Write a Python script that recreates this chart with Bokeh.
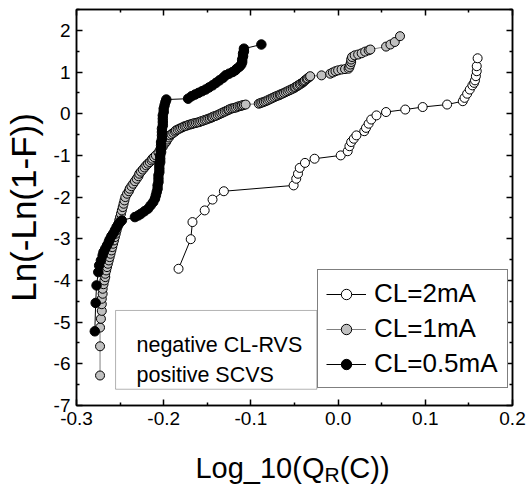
from bokeh.plotting import figure
from bokeh.layouts import column
from bokeh.models import (Range1d, LinearAxis, FixedTicker, PrintfTickFormatter,
                          Legend, LegendItem, Label, BoxAnnotation, Div)
from bokeh.embed import file_html
from bokeh.resources import INLINE

FONT = "Liberation Sans"

# ---------------- data ----------------
x_2mA = [-0.183, -0.169, -0.167, -0.153, -0.144, -0.131, -0.051, -0.048, -0.046, -0.044,
         -0.038, -0.027, 0.003, 0.011, 0.013, 0.015, 0.018, 0.021, 0.030, 0.032,
         0.035, 0.038, 0.044, 0.055, 0.077, 0.097, 0.125, 0.143, 0.145, 0.148,
         0.151, 0.154, 0.156, 0.157, 0.158, 0.159, 0.159, 0.160]
y_2mA = [-3.72, -3.01, -2.60, -2.32, -2.06, -1.86, -1.72, -1.56, -1.44, -1.30,
         -1.18, -1.08, -1.00, -0.90, -0.78, -0.68, -0.60, -0.52, -0.42, -0.34,
         -0.24, -0.14, -0.04, 0.04, 0.10, 0.16, 0.22, 0.30, 0.38, 0.48,
         0.58, 0.68, 0.74, 0.80, 0.90, 1.02, 1.14, 1.33]

x_1mA = [-0.273, -0.273, -0.273, -0.272, -0.271, -0.271, -0.271, -0.270, -0.270, -0.269, -0.268,
         -0.267, -0.267, -0.266, -0.265, -0.264, -0.263, -0.262, -0.261, -0.260, -0.259, -0.258,
         -0.257, -0.256, -0.255, -0.254, -0.253, -0.252, -0.251, -0.250, -0.249, -0.248, -0.247,
         -0.246, -0.245, -0.244,
         -0.242, -0.240, -0.239, -0.237, -0.235, -0.233, -0.231, -0.229, -0.228, -0.226,
         -0.224, -0.222, -0.220, -0.218, -0.216, -0.214, -0.213, -0.211, -0.209, -0.206,
         -0.204, -0.201, -0.199, -0.197, -0.196, -0.194, -0.193, -0.191, -0.189, -0.187,
         -0.186, -0.184, -0.182, -0.180, -0.178, -0.176, -0.174, -0.172, -0.170, -0.168,
         -0.167, -0.165, -0.163, -0.161, -0.159, -0.157, -0.155, -0.153, -0.151, -0.149,
         -0.147, -0.145, -0.144, -0.142, -0.140, -0.138, -0.136, -0.134, -0.132, -0.130,
         -0.128, -0.126, -0.125, -0.123, -0.121, -0.119, -0.117, -0.115, -0.113, -0.111,
         -0.110, -0.108, -0.106,
         -0.091, -0.089, -0.087, -0.085, -0.083, -0.081, -0.079, -0.077, -0.075, -0.073,
         -0.071, -0.069, -0.067, -0.066, -0.064, -0.062, -0.060, -0.058, -0.056, -0.054,
         -0.052, -0.050, -0.049, -0.047, -0.046, -0.044, -0.043, -0.041, -0.040, -0.039,
         -0.038, -0.036, -0.035, -0.033, -0.032,
         -0.019, -0.009, -0.006, -0.003, 0.000, 0.004, 0.008, 0.012, 0.013, 0.014, 0.015, 0.015,
         0.016, 0.019, 0.023, 0.027, 0.031, 0.035, 0.037, 0.055, 0.060, 0.065, 0.071]
y_1mA = [-6.28, -5.58, -5.13, -4.92, -4.73, -4.57, -4.44, -4.32, -4.20, -4.09, -4.00,
         -3.92, -3.84, -3.76, -3.68, -3.60, -3.52, -3.44, -3.36, -3.28, -3.20, -3.12,
         -3.04, -2.96, -2.88, -2.80, -2.72, -2.64, -2.56, -2.48, -2.40, -2.32, -2.24,
         -2.16, -2.08, -2.00,
         -1.92, -1.86, -1.80, -1.74, -1.68, -1.62, -1.56, -1.50, -1.44, -1.39,
         -1.34, -1.29, -1.24, -1.20, -1.16, -1.12, -1.08, -1.04, -1.00, -0.93,
         -0.86, -0.79, -0.72, -0.67, -0.62, -0.57, -0.52, -0.49, -0.46, -0.43,
         -0.40, -0.38, -0.36, -0.34, -0.32, -0.30, -0.29, -0.27, -0.26, -0.25,
         -0.24, -0.23, -0.22, -0.21, -0.20, -0.18, -0.17, -0.15, -0.14, -0.12,
         -0.11, -0.09, -0.08, -0.06, -0.05, -0.03, -0.01, 0.01, 0.03, 0.05,
         0.07, 0.09, 0.10, 0.12, 0.13, 0.14, 0.15, 0.17, 0.18, 0.19,
         0.20, 0.21, 0.22,
         0.24, 0.255, 0.27, 0.285, 0.30, 0.32, 0.34, 0.36, 0.38, 0.40,
         0.42, 0.435, 0.45, 0.465, 0.48, 0.50, 0.52, 0.54, 0.56, 0.58,
         0.60, 0.62, 0.64, 0.66, 0.68, 0.70, 0.72, 0.74, 0.76, 0.78,
         0.80, 0.83, 0.85, 0.88, 0.90,
         0.92, 0.96, 0.99, 1.02, 1.04, 1.06, 1.07, 1.08, 1.12, 1.18, 1.24, 1.30,
         1.36, 1.40, 1.42, 1.45, 1.49, 1.52, 1.54, 1.61, 1.66, 1.72, 1.86]

x_05mA = [-0.279, -0.278, -0.277, -0.275, -0.274, -0.272, -0.270, -0.269, -0.267, -0.265,
          -0.263, -0.262, -0.260, -0.258, -0.256, -0.254, -0.252, -0.250, -0.248,
          -0.233, -0.229, -0.226, -0.222, -0.218, -0.215, -0.212, -0.210, -0.209, -0.208,
          -0.207, -0.207, -0.206, -0.206, -0.206, -0.205, -0.205, -0.205, -0.204, -0.204,
          -0.204, -0.203, -0.203, -0.203, -0.203, -0.202, -0.202, -0.202, -0.202, -0.201,
          -0.201, -0.201, -0.201, -0.200, -0.200, -0.199, -0.198, -0.197,
          -0.172, -0.168, -0.164, -0.160, -0.156, -0.152, -0.148, -0.144, -0.140, -0.136,
          -0.132, -0.129, -0.125, -0.121, -0.118, -0.116, -0.113, -0.111, -0.110, -0.110,
          -0.109, -0.109, -0.108, -0.108, -0.088]
y_05mA = [-5.22, -4.54, -4.12, -3.80, -3.64, -3.52, -3.40, -3.32, -3.24, -3.16,
          -3.08, -3.02, -2.94, -2.88, -2.80, -2.72, -2.66, -2.60, -2.56,
          -2.48, -2.44, -2.40, -2.34, -2.28, -2.20, -2.12, -2.04, -1.96, -1.88,
          -1.80, -1.72, -1.64, -1.56, -1.48, -1.40, -1.32, -1.24, -1.16, -1.08,
          -1.00, -0.92, -0.84, -0.76, -0.68, -0.60, -0.52, -0.44, -0.36, -0.28,
          -0.20, -0.12, -0.04, 0.04, 0.12, 0.20, 0.28, 0.34,
          0.36, 0.42, 0.46, 0.50, 0.54, 0.58, 0.63, 0.68, 0.74, 0.80,
          0.86, 0.92, 0.96, 1.00, 1.04, 1.08, 1.13, 1.18, 1.24, 1.30,
          1.38, 1.44, 1.50, 1.56, 1.66]

x_ticks = [-0.3, -0.2, -0.1, 0.0, 0.1, 0.2]
x_minor = [-0.25, -0.15, -0.05, 0.05, 0.15]
y_ticks = [-7, -6, -5, -4, -3, -2, -1, 0, 1, 2]
y_minor = [-6.5, -5.5, -4.5, -3.5, -2.5, -1.5, -0.5, 0.5, 1.5, 2.5]

series_labels = ["CL=2mA", "CL=1mA", "CL=0.5mA"]
box_lines = ["negative CL-RVS", "positive SCVS"]
x_title_main, x_title_sub, x_title_end = "Log_10(Q", "R", "(C))"
y_title = "Ln(-Ln(1-F))"

# ---------------- main figure ----------------
p = figure(width=528, height=448, output_backend="svg", toolbar_location=None,
           x_range=Range1d(-0.3, 0.2), y_range=Range1d(-7, 2.5),
           min_border_left=73, min_border_right=16, min_border_top=9, min_border_bottom=43)
p.xgrid.visible = False
p.ygrid.visible = False
p.outline_line_color = "black"
p.outline_line_width = 1.5
p.background_fill_color = "white"
p.border_fill_color = "white"

xt = FixedTicker(ticks=x_ticks, minor_ticks=x_minor)
yt = FixedTicker(ticks=y_ticks, minor_ticks=y_minor)


def style(ax, show_labels):
    ax.axis_line_color = "black"
    ax.axis_line_width = 1.5
    ax.major_tick_in = 6
    ax.major_tick_out = 0
    ax.minor_tick_in = 3
    ax.minor_tick_out = 0
    ax.major_tick_line_width = 1.5
    ax.minor_tick_line_width = 1.5
    ax.major_tick_line_color = "black"
    ax.minor_tick_line_color = "black"
    if show_labels:
        ax.major_label_text_font = FONT
        ax.major_label_text_font_size = "19px"
        ax.major_label_text_color = "black"
    else:
        ax.major_label_text_font_size = "0px"
        ax.major_label_standoff = 0


xa = p.xaxis[0]
xa.ticker = xt
xa.formatter = PrintfTickFormatter(format="%.1f")
style(xa, True)
xa.major_label_standoff = 6

ya = p.yaxis[0]
ya.ticker = yt
ya.formatter = PrintfTickFormatter(format="%d")
style(ya, True)
ya.major_label_standoff = 6
ya.axis_label = y_title
ya.axis_label_text_font = FONT
ya.axis_label_text_font_size = "35px"
ya.axis_label_text_font_style = "normal"
ya.axis_label_text_color = "black"
ya.axis_label_standoff = 8

top = LinearAxis(ticker=xt)
style(top, False)
p.add_layout(top, "above")
right = LinearAxis(ticker=yt)
style(right, False)
p.add_layout(right, "right")

# ---------------- series ----------------
l1 = p.line(x_2mA, y_2mA, line_color="black", line_width=1)
s1 = p.scatter(x_2mA, y_2mA, size=9, marker="circle", fill_color="white",
               line_color="black", line_width=1)
l2 = p.line(x_1mA, y_1mA, line_color="#808080", line_width=1)
s2 = p.scatter(x_1mA, y_1mA, size=9, marker="circle", fill_color="#c0c0c0",
               line_color="black", line_width=1)
l3 = p.line(x_05mA, y_05mA, line_color="black", line_width=1)
s3 = p.scatter(x_05mA, y_05mA, size=9.5, marker="circle", fill_color="black",
               line_color="black", line_width=1)

legend = Legend(items=[LegendItem(label=series_labels[0], renderers=[l1, s1]),
                       LegendItem(label=series_labels[1], renderers=[l2, s2]),
                       LegendItem(label=series_labels[2], renderers=[l3, s3])],
                location=(241, 17))
legend.border_line_color = "black"
legend.border_line_width = 1
legend.background_fill_color = "white"
legend.background_fill_alpha = 1
legend.label_text_font = FONT
legend.label_text_font_size = "26px"
legend.label_text_color = "black"
legend.glyph_width = 40
legend.glyph_height = 26
legend.label_height = 26
legend.label_width = 125
legend.spacing = 4
legend.padding = 8
legend.label_standoff = 8
legend.margin = 0
p.add_layout(legend)

# ---------------- text box ----------------
box = BoxAnnotation(left=-0.2552, right=-0.0244, top=-4.72, bottom=-6.61,
                    fill_color="white", fill_alpha=1, line_color="black", line_width=1)
p.add_layout(box)
p.add_layout(Label(x=-0.3, y=-7, x_offset=60, y_offset=61, text=box_lines[0],
                   text_font=FONT, text_font_size="21.5px", text_color="black",
                   text_baseline="alphabetic"))
p.add_layout(Label(x=-0.3, y=-7, x_offset=60, y_offset=31, text=box_lines[1],
                   text_font=FONT, text_font_size="21.5px", text_color="black",
                   text_baseline="alphabetic"))

# ---------------- x axis title (with subscript R) ----------------
title_html = (
    '<div style="margin:0;padding:0;padding-top:2px;margin-left:57px;width:471px;'
    'text-align:center;font-family:\'Liberation Sans\',Arial,sans-serif;'
    'font-size:29px;line-height:36px;color:#000;white-space:nowrap;">'
    + x_title_main
    + '<span style="font-size:21px;line-height:0;position:relative;top:4px;">'
    + x_title_sub + '</span>' + x_title_end + '</div>'
)
xtitle = Div(text=title_html, width=528, height=40, margin=0)

layout = column(p, xtitle, spacing=0)
open("out.html", "w").write(file_html(layout, INLINE))
